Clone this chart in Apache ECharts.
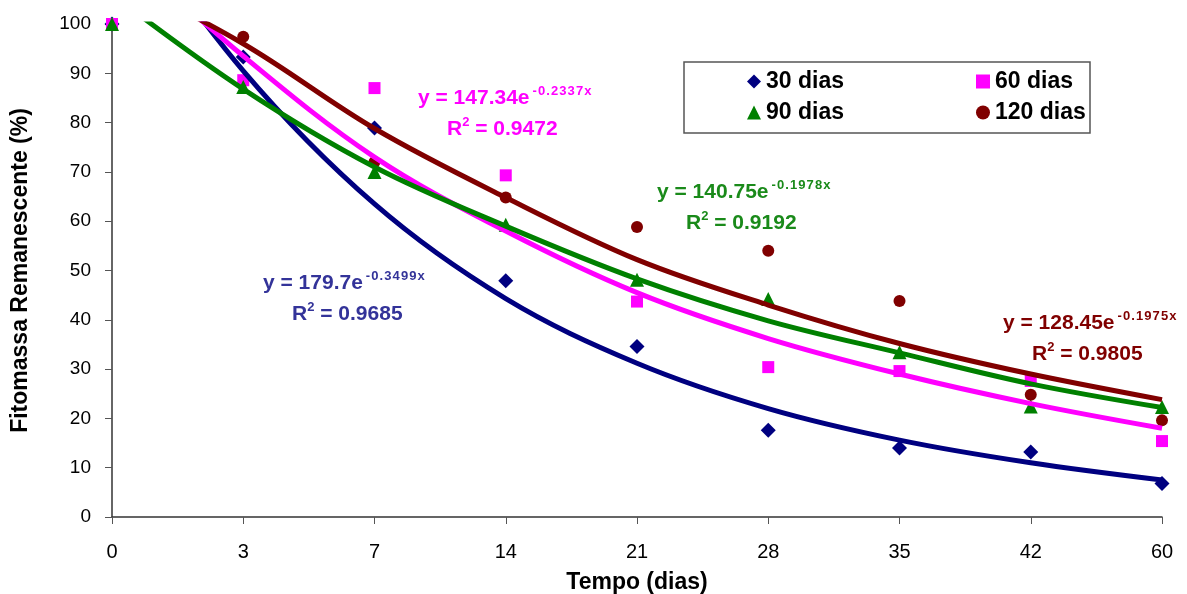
<!DOCTYPE html>
<html>
<head>
<meta charset="utf-8">
<script src="https://cdn.jsdelivr.net/npm/echarts@6/dist/echarts.min.js"></script>
<style>
  html, body { margin: 0; padding: 0; background: #fff; }
  #chart { width: 1187px; height: 594px; }
</style>
</head>
<body>
<div id="chart"></div>
<script>
// tempo (dias)
const categories = ['0', '3', '7', '14', '21', '28', '35', '42', '60'];

// pontos observados (%)
const dias30 = [100, 93.3, 78.9, 47.9, 34.6, 17.6, 14.0, 13.2, 6.8];
const dias60 = [100, 88.6, 87.0, 69.3, 43.7, 30.4, 29.6, 27.6, 15.4];
const dias90 = [100, 87.2, 70.0, 59.3, 48.1, 44.2, 33.4, 22.4, 22.3];
const dias120 = [100.4, 97.4, 72.0, 64.8, 58.8, 54.0, 43.8, 24.8, 19.6];

// linhas de tendencia (acima de 100 fica cortado)
const trend30 = [126, 90.5, 63.5, 44.3, 31.2, 22.0, 15.6, 11.0, 7.5];
const trend60 = [117, 93.5, 73.0, 58.0, 45.5, 36.2, 29.0, 23.0, 18.0];
const trend90 = [106, 86.8, 71.0, 59.0, 48.3, 39.8, 33.3, 27.0, 22.2];
const trend120 = [110, 96.0, 78.8, 64.8, 52.2, 43.0, 35.2, 29.0, 23.8];

const navy = '#000080', pink = '#ff00ff', green = '#008000', wine = '#800000';

const chart = echarts.init(document.getElementById('chart'));

const trendLine = (name, data, color, z) => ({
  name: name,
  type: 'line',
  data: data,
  smooth: 0.35,
  symbol: 'none',
  clip: true,
  z: z,
  silent: true,
  lineStyle: { color: color, width: 5 }
});

const points = (name, data, color, symbol, size) => ({
  name: name,
  type: 'scatter',
  data: data,
  symbol: symbol,
  symbolSize: size,
  z: 3,
  itemStyle: { color: color, opacity: 1 }
});

const richStyle = (color) => ({
  a: { fontFamily: 'Liberation Sans', fontWeight: 'bold', fontSize: 21, fill: color, lineHeight: 24, verticalAlign: 'bottom' },
  s: { fontFamily: 'Liberation Sans', fontWeight: 'bold', fontSize: 13, fill: color, lineHeight: 14, verticalAlign: 'top', padding: [0, 0, 0, 3] },
  r: { fontFamily: 'Liberation Sans', fontWeight: 'bold', fontSize: 13, fill: color, lineHeight: 14, verticalAlign: 'top' }
});

const eqText = (x, y, eq, exp, r2, color) => ({
  type: 'group',
  left: x,
  top: y,
  children: [
    {
      type: 'text',
      x: 0, y: 0,
      style: { text: '{a|' + eq + '}{s|' + exp.split('').join('\u200a') + '}', rich: richStyle(color) }
    },
    {
      type: 'text',
      x: 29, y: 31,
      style: { text: '{a|R}{r|2}{a| = ' + r2 + '}', rich: richStyle(color) }
    }
  ]
});

chart.setOption({
  animation: false,
  backgroundColor: '#fff',
  grid: { left: 112, right: 25, top: 24, bottom: 77, containLabel: false, outerBoundsMode: 'none' },
  xAxis: {
    type: 'category',
    data: categories,
    boundaryGap: false,
    name: 'Tempo (dias)',
    nameLocation: 'middle',
    nameGap: 54,
    nameTextStyle: { fontFamily: 'Liberation Sans', fontWeight: 'bold', fontSize: 23, color: '#000' },
    axisLine: { lineStyle: { color: '#333', width: 1.5 } },
    axisTick: { alignWithLabel: true, length: 7, lineStyle: { color: '#555' } },
    axisLabel: { margin: 25, fontFamily: 'Liberation Sans', fontSize: 20, color: '#000' },
    splitLine: { show: false }
  },
  yAxis: {
    type: 'value',
    min: 0,
    max: 100,
    interval: 10,
    name: 'Fitomassa Remanescente (%)',
    nameLocation: 'middle',
    nameGap: 80,
    nameTextStyle: { fontFamily: 'Liberation Sans', fontWeight: 'bold', fontSize: 23, color: '#000' },
    axisLine: { show: true, lineStyle: { color: '#333', width: 1.5 } },
    axisTick: { show: true, inside: false, length: 7, lineStyle: { color: '#555' } },
    axisLabel: { margin: 21, fontFamily: 'Liberation Sans', fontSize: 19, color: '#000' },
    splitLine: { show: false }
  },
  legend: [
    {
      data: ['30 dias', '60 dias'],
      left: 742, top: 65,
      itemGap: 132, itemWidth: 14, itemHeight: 14,
      textStyle: { fontFamily: 'Liberation Sans', fontWeight: 'bold', fontSize: 23, color: '#000' },
      selectedMode: false
    },
    {
      data: ['90 dias', '120 dias'],
      left: 742, top: 96,
      itemGap: 132, itemWidth: 14, itemHeight: 14,
      textStyle: { fontFamily: 'Liberation Sans', fontWeight: 'bold', fontSize: 23, color: '#000' },
      selectedMode: false
    }
  ],
  graphic: [
    {
      type: 'rect',
      shape: { x: 684, y: 62, width: 406, height: 71 },
      style: { fill: 'none', stroke: '#555', lineWidth: 1.5 },
      z: 0
    },
    eqText(418, 85, 'y = 147.34e', '-0.2337x', '0.9472', pink),
    eqText(657, 179, 'y = 140.75e', '-0.1978x', '0.9192', '#1a8a1a'),
    eqText(263, 270, 'y = 179.7e', '-0.3499x', '0.9685', '#333399'),
    eqText(1003, 310, 'y = 128.45e', '-0.1975x', '0.9805', wine)
  ],
  series: [
    points('30 dias', dias30, navy, 'diamond', 15),
    points('60 dias', dias60, pink, 'rect', 12),
    points('90 dias', dias90, green, 'triangle', 14),
    points('120 dias', dias120, wine, 'circle', 12),
    trendLine('tend 30', trend30, navy, 5),
    trendLine('tend 60', trend60, pink, 6),
    trendLine('tend 90', trend90, green, 7),
    trendLine('tend 120', trend120, wine, 8)
  ]
});
</script>
</body>
</html>
